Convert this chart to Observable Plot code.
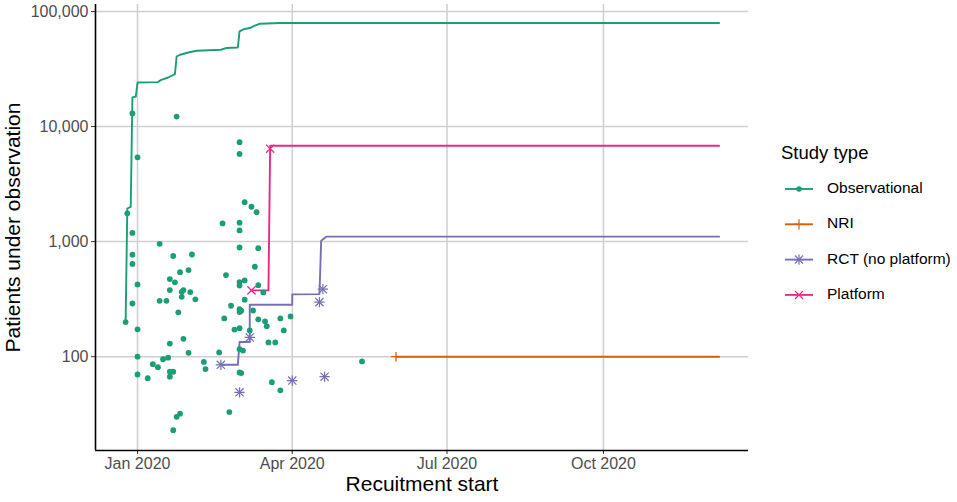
<!DOCTYPE html>
<html>
<head>
<meta charset="utf-8">
<script src="https://cdn.jsdelivr.net/npm/d3@7"></script>
<script src="https://cdn.jsdelivr.net/npm/@observablehq/plot@0.6"></script>
<style>
  body { margin: 0; background: #fff; font-family: "Liberation Sans", Arial, sans-serif; }
  #wrap { position: relative; width: 957px; height: 502px; }
  #legend { position: absolute; left: 0; top: 0; pointer-events: none; }
</style>
</head>
<body>
<div id="wrap"></div>
<script>
// ---------- data ----------
const studyTypes = ["Observational", "NRI", "RCT (no platform)", "Platform"];
const typeColors = ["#1B9E77", "#D95F02", "#7570B3", "#E7298A"];

// Individual studies (recruitment start, patients)
const obsDates = [
  "2019-12-25","2019-12-26","2019-12-29","2020-01-01","2019-12-29","2019-12-29","2019-12-29","2019-12-29",
  "2020-01-01","2020-01-01","2020-01-01","2020-01-01","2020-01-07","2020-01-10","2020-01-13","2020-01-14",
  "2020-01-14","2020-01-18","2020-01-16","2020-01-19","2020-01-20","2020-01-20","2020-01-20","2020-01-20",
  "2020-01-22","2020-01-20","2020-01-22","2020-01-23","2020-01-22","2020-01-24","2020-01-24","2020-01-26",
  "2020-01-26","2020-01-25","2020-01-27","2020-01-27","2020-01-28","2020-01-28","2020-01-31","2020-01-31",
  "2020-02-01","2020-02-02","2020-02-04","2020-02-09","2020-02-10","2020-02-18","2020-02-20","2020-02-21",
  "2020-02-22","2020-02-24","2020-02-25","2020-02-27","2020-03-01","2020-03-01","2020-03-01","2020-03-01",
  "2020-03-01","2020-03-01","2020-03-01","2020-03-01","2020-03-02","2020-03-01","2020-03-01","2020-03-01",
  "2020-03-03","2020-03-01","2020-03-02","2020-03-04","2020-03-04","2020-03-04","2020-03-07","2020-03-08",
  "2020-03-09","2020-03-10","2020-03-11","2020-03-12","2020-03-12","2020-03-12","2020-03-15","2020-03-16",
  "2020-03-17","2020-03-18","2020-03-20","2020-03-22","2020-03-25","2020-03-25","2020-03-27","2020-03-31",
  "2020-05-12"
];
const obsPatients = [
  200, 1760, 13000, 5400, 1190, 770, 640, 290,
  425, 173, 100, 70, 65, 86, 81, 957,
  306, 306, 95, 98, 473, 379, 130, 74,
  74, 67, 750, 443, 23, 12200, 30, 32,
  543, 243, 331, 366, 379, 143, 566, 108,
  364, 773, 315, 90, 78, 109, 1440, 215,
  512, 33, 277, 172, 7310, 5780, 1460, 1250,
  889, 445, 415, 259, 251, 244, 177, 116,
  113, 73, 72, 2200, 460, 313, 169, 2010,
  252, 605, 1800, 877, 418, 211, 362, 203,
  184, 133, 60, 133, 215, 51, 169, 224,
  91
];
const nriDates = ["2020-06-01"];
const nriPatients = [100];
const rctDates = ["2020-02-19","2020-03-01","2020-03-07","2020-04-01","2020-04-17","2020-04-19","2020-04-20"];
const rctPatients = [85, 49, 147, 62, 298, 386, 67];
const platDates = ["2020-03-08","2020-03-19"];
const platPatients = [377, 6420];

// Cumulative patients under observation
const obsCumDates = [
  "2019-12-25","2019-12-26","2019-12-28","2019-12-29","2019-12-31","2020-01-01","2020-01-13","2020-01-15",
  "2020-01-19","2020-01-23","2020-01-24","2020-01-26","2020-02-01","2020-02-05","2020-02-19","2020-02-22",
  "2020-02-29","2020-03-01","2020-03-04","2020-03-07","2020-03-10","2020-03-13","2020-03-25","2020-12-08"
];
const obsCumPatients = [
  200, 1940, 2000, 17950, 18240, 24150, 24320, 25470,
  26680, 28560, 40640, 42060, 44420, 45610, 46520, 48120,
  48700, 67150, 70470, 71830, 75200, 78300, 79430, 79430
];
const nriCumDates = ["2020-06-01","2020-12-08"];
const nriCumPatients = [100, 100];
const rctCumDates = ["2020-02-19","2020-02-29","2020-03-01","2020-03-07","2020-03-07","2020-04-01","2020-04-01","2020-04-17","2020-04-18","2020-04-21","2020-12-08"];
const rctCumPatients = [85, 85, 134, 134, 283, 283, 348, 350, 1018, 1104, 1104];
const platCumDates = ["2020-03-08","2020-03-18","2020-03-19","2020-12-08"];
const platCumPatients = [377, 377, 6800, 6800];

const xTickValues = ["2020-01-01","2020-04-01","2020-07-01","2020-10-01"];
const yTickValues = [100, 1000, 10000, 100000];
const xTitle = "Recuitment start";
const yTitle = "Patients under observation";
const legendTitle = "Study type";

// ---------- build ----------
const parse = d3.utcParse("%Y-%m-%d");
const rows = (dates, vals) => dates.map((d, i) => ({date: parse(d), n: vals[i]}));
const obs = rows(obsDates, obsPatients), nri = rows(nriDates, nriPatients),
      rct = rows(rctDates, rctPatients), plat = rows(platDates, platPatients);
const obsCum = rows(obsCumDates, obsCumPatients), nriCum = rows(nriCumDates, nriCumPatients),
      rctCum = rows(rctCumDates, rctCumPatients), platCum = rows(platCumDates, platCumPatients);
const xTicks = xTickValues.map(parse);

const xDomain = [new Date(Date.UTC(2019, 11, 7, 7)), new Date(Date.UTC(2020, 11, 25, 7))];
const yDomain = [15.3, 115000];
const [cObs, cNri, cRct, cPlat] = typeColors;
const lw = 1.9;

const chart = Plot.plot({
  width: 957, height: 502,
  marginLeft: 95, marginRight: 209, marginTop: 4, marginBottom: 52,
  style: {fontFamily: '"Liberation Sans", Arial, sans-serif', fontSize: "16px", color: "#4d4d4d", background: "white", overflow: "visible"},
  x: {type: "utc", domain: xDomain},
  y: {type: "log", domain: yDomain},
  marks: [
    Plot.gridX(xTicks, {stroke: "#cfcfcf", strokeOpacity: 1, strokeWidth: 1.5}),
    Plot.gridY(yTickValues, {stroke: "#cfcfcf", strokeOpacity: 1, strokeWidth: 1.5}),
    Plot.axisX(xTicks, {tickFormat: d3.utcFormat("%b %Y"), tickSize: 4, tickPadding: 3, stroke: "#333", label: null}),
    Plot.axisY(yTickValues, {tickFormat: d3.format(","), tickSize: 4, tickPadding: 3, stroke: "#333", label: null}),
    Plot.ruleX([xDomain[0]], {stroke: "black", strokeWidth: 1.6}),
    Plot.ruleY([yDomain[0]], {stroke: "black", strokeWidth: 1.6}),
    Plot.line(obsCum, {x: "date", y: "n", stroke: cObs, strokeWidth: lw}),
    Plot.line(nriCum, {x: "date", y: "n", stroke: cNri, strokeWidth: lw}),
    Plot.line(rctCum, {x: "date", y: "n", stroke: cRct, strokeWidth: lw}),
    Plot.line(platCum, {x: "date", y: "n", stroke: cPlat, strokeWidth: lw}),
    Plot.dot(obs, {x: "date", y: "n", fill: cObs, r: 2.9}),
    Plot.dot(nri, {x: "date", y: "n", symbol: "plus", stroke: cNri, r: 3.2, strokeWidth: 1.3}),
    Plot.dot(rct, {x: "date", y: "n", symbol: "plus", stroke: cRct, r: 3.4, strokeWidth: 1.2}),
    Plot.dot(rct, {x: "date", y: "n", symbol: "times", stroke: cRct, r: 3.8, strokeWidth: 1.2}),
    Plot.dot(plat, {x: "date", y: "n", symbol: "times", stroke: cPlat, r: 3.8, strokeWidth: 1.3}),
    Plot.text([xTitle], {frameAnchor: "bottom", dy: 40, fontSize: 21, fill: "black", textAnchor: "middle"}),
    Plot.text([yTitle], {frameAnchor: "left", dx: -82, rotate: -90, fontSize: 21, fill: "black", textAnchor: "middle"})
  ]
});
const wrap = document.getElementById("wrap");
wrap.appendChild(chart);

// ---------- legend ----------
const leg = d3.select(wrap).append("svg").attr("id", "legend").attr("width", 957).attr("height", 502);
leg.append("text").attr("x", 781).attr("y", 154).attr("dominant-baseline", "middle")
  .attr("font-size", 18.5).attr("fill", "black").text(legendTitle);
const symbols = [["circle"], ["plus"], ["plus", "times"], ["times"]];
const symMap = {circle: d3.symbolCircle, plus: d3.symbolPlus, times: d3.symbolTimes};
studyTypes.forEach((t, i) => {
  const yy = 189 + i * 35.3;
  const g = leg.append("g");
  g.append("line").attr("x1", 785).attr("x2", 813).attr("y1", yy).attr("y2", yy)
    .attr("stroke", typeColors[i]).attr("stroke-width", lw);
  symbols[i].forEach(s => {
    const r = s === "circle" ? 2.8 : (s === "plus" ? 3.4 : 3.8);
    const p = g.append("path").attr("transform", `translate(799,${yy})`)
      .attr("d", d3.symbol(symMap[s], Math.PI * r * r)());
    if (s === "circle") p.attr("fill", typeColors[i]);
    else p.attr("fill", "none").attr("stroke", typeColors[i]).attr("stroke-width", 1.2);
  });
  g.append("text").attr("x", 827).attr("y", yy).attr("dominant-baseline", "middle")
    .attr("font-size", 15.5).attr("fill", "black").text(t);
});
</script>
</body>
</html>
